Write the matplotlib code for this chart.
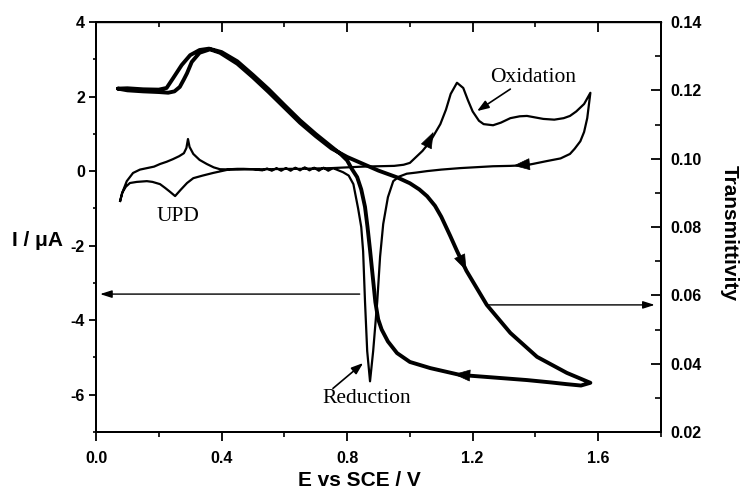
import matplotlib
matplotlib.use("Agg")
import matplotlib.pyplot as plt
from matplotlib.ticker import MultipleLocator, FixedLocator

plt.rcParams['axes.unicode_minus'] = False
plt.rcParams['font.family'] = ['Liberation Sans', 'DejaVu Sans']

# ---------------- data ----------------
# Cyclic voltammogram, current I / uA vs E / V
cv_fwd_E = [0.077, 0.085, 0.098, 0.118, 0.14, 0.162, 0.185, 0.204, 0.225, 0.245, 0.265, 0.280,
            0.288, 0.293, 0.298, 0.31, 0.33, 0.353, 0.375, 0.395, 0.45, 0.5, 0.55, 0.6, 0.65,
            0.7, 0.75, 0.8, 0.85, 0.9, 0.95, 0.98, 1.0, 1.02, 1.04, 1.065, 1.097, 1.115, 1.13,
            1.15, 1.17, 1.185, 1.20, 1.22, 1.235, 1.265, 1.29, 1.32, 1.35, 1.373, 1.40, 1.425,
            1.46, 1.49, 1.51, 1.53, 1.555, 1.575]
cv_fwd_I = [-0.80, -0.55, -0.27, -0.05, 0.04, 0.08, 0.12, 0.19, 0.25, 0.32, 0.40, 0.48,
            0.62, 0.86, 0.65, 0.46, 0.30, 0.19, 0.10, 0.05, 0.04, 0.05, 0.05, 0.06, 0.06,
            0.07, 0.08, 0.10, 0.12, 0.13, 0.14, 0.17, 0.22, 0.38, 0.54, 0.80, 1.26, 1.65, 2.07,
            2.37, 2.23, 1.90, 1.60, 1.35, 1.26, 1.23, 1.30, 1.42, 1.47, 1.48, 1.44, 1.40,
            1.38, 1.42, 1.48, 1.60, 1.80, 2.10]
cv_rev_E = [1.575, 1.565, 1.555, 1.543, 1.525, 1.51, 1.48, 1.437, 1.373, 1.32, 1.265, 1.2,
            1.16, 1.1, 1.055, 1.02, 0.99, 0.965, 0.947, 0.93, 0.915, 0.905, 0.896, 0.883,
            0.873, 0.864, 0.857, 0.851, 0.845, 0.835, 0.82, 0.805, 0.787, 0.77,
            0.755, 0.74, 0.725, 0.71, 0.695, 0.68, 0.665, 0.65, 0.635, 0.62, 0.605, 0.59,
            0.575, 0.56, 0.545, 0.53, 0.5, 0.47, 0.45, 0.427, 0.40, 0.373, 0.34, 0.31, 0.29,
            0.27, 0.252, 0.235, 0.22, 0.204, 0.18, 0.162, 0.13, 0.108, 0.095, 0.083, 0.077]
cv_rev_I = [2.10, 1.42, 1.05, 0.80, 0.60, 0.46, 0.34, 0.27, 0.16, 0.14, 0.13, 0.10,
            0.08, 0.04, 0.00, -0.04, -0.07, -0.15, -0.27, -0.70, -1.42, -2.30, -3.50, -4.83,
            -5.64, -4.83, -3.50, -2.15, -1.50, -1.00, -0.35, -0.12, -0.03, 0.03,
            0.08, 0.01, 0.09, 0.01, 0.09, 0.02, 0.10, 0.02, 0.09, 0.01, 0.08, 0.01,
            0.08, 0.01, 0.07, 0.02, 0.05, 0.06, 0.06, 0.05, 0.00, -0.05, -0.12, -0.19, -0.32,
            -0.50, -0.67, -0.55, -0.45, -0.35, -0.29, -0.27, -0.29, -0.32, -0.42, -0.59, -0.80]

# Transmittivity vs E / V
t_fwd_E = [0.07, 0.10, 0.15, 0.20, 0.23, 0.25, 0.267, 0.28, 0.29, 0.305, 0.33, 0.363, 0.395,
           0.45, 0.5, 0.55, 0.6, 0.65, 0.70, 0.75, 0.80, 0.85, 0.90, 0.96, 1.0, 1.03, 1.055,
           1.08, 1.10, 1.128, 1.15, 1.18, 1.245, 1.32, 1.405, 1.50, 1.575]
t_fwd_T = [0.1205, 0.1200, 0.1197, 0.1195, 0.1193, 0.1197, 0.1210, 0.1232, 0.1250, 0.1283,
           0.1310, 0.1320, 0.1310, 0.1278, 0.1238, 0.1195, 0.1150, 0.1105, 0.1066, 0.1030,
           0.1005, 0.0985, 0.0965, 0.0945, 0.0928, 0.0910, 0.0890, 0.0862, 0.0830, 0.0775,
           0.0730, 0.0672, 0.0572, 0.0490, 0.0420, 0.0373, 0.0344]
t_rev_E = [1.575, 1.545, 1.50, 1.45, 1.373, 1.26, 1.16, 1.065, 1.0, 0.959, 0.93, 0.91, 0.899,
           0.89, 0.88, 0.873, 0.865, 0.857, 0.845, 0.832, 0.815, 0.80, 0.78, 0.75, 0.70, 0.65,
           0.60, 0.55, 0.50, 0.45, 0.40, 0.36, 0.33, 0.30, 0.273, 0.246, 0.225, 0.20, 0.15,
           0.10, 0.07]
t_rev_T = [0.0344, 0.0336, 0.0340, 0.0345, 0.0352, 0.0360, 0.0367, 0.0387, 0.0405, 0.0431,
           0.0465, 0.0500, 0.0530, 0.0580, 0.0670, 0.0733, 0.0800, 0.0859, 0.0910, 0.0946,
           0.0970, 0.0995, 0.1013, 0.1035, 0.1072, 0.1112, 0.1157, 0.1203, 0.1245, 0.1285,
           0.1312, 0.1322, 0.1318, 0.1303, 0.1274, 0.1236, 0.1207, 0.1202, 0.1203, 0.1206,
           0.1205]

x_ticks = [0.0, 0.4, 0.8, 1.2, 1.6]
x_tick_labels = ['0.0', '0.4', '0.8', '1.2', '1.6']
i_ticks = [-6, -4, -2, 0, 2, 4]
i_tick_labels = ['-6', '-4', '-2', '0', '2', '4']
t_ticks = [0.02, 0.04, 0.06, 0.08, 0.10, 0.12, 0.14]
t_tick_labels = ['0.02', '0.04', '0.06', '0.08', '0.10', '0.12', '0.14']

# ---------------- figure ----------------
W, H = 741, 495
fig = plt.figure(figsize=(W / 100, H / 100), dpi=100)
L, R, T, B = 96, 661, 22, 432
ax = fig.add_axes([L / W, 1 - B / H, (R - L) / W, (B - T) / H])
ax2 = ax.twinx()

ax.set_xlim(0, 1.8)
ax.set_ylim(-7, 4)
ax2.set_ylim(0.02, 0.14)

ax.plot(cv_fwd_E + cv_rev_E, cv_fwd_I + cv_rev_I, color='black', lw=1.6, solid_joinstyle='round')
ax2.plot(t_fwd_E + t_rev_E, t_fwd_T + t_rev_T, color='black', lw=2.8, solid_joinstyle='round',
         solid_capstyle='round')

tick_font = dict(fontsize=11.5, fontweight='bold')
ax.set_xticks(x_ticks)
ax.set_xticklabels(x_tick_labels, **tick_font)
ax.xaxis.set_minor_locator(MultipleLocator(0.2))
ax.set_yticks(i_ticks)
ax.set_yticklabels(i_tick_labels, **tick_font)
ax.yaxis.set_minor_locator(FixedLocator([-7, -5, -3, -1, 1, 3]))
ax2.set_yticks(t_ticks)
ax2.set_yticklabels(t_tick_labels, **tick_font)
ax2.yaxis.set_minor_locator(FixedLocator([0.03, 0.05, 0.07, 0.09, 0.11, 0.13]))

ax.tick_params(axis='x', which='major', direction='out', length=6.5, width=1.3, pad=7)
ax.tick_params(axis='x', which='minor', direction='out', length=3.5, width=1.2)
ax.tick_params(axis='y', which='major', direction='out', length=5, width=1.3, pad=3)
ax.tick_params(axis='y', which='minor', direction='out', length=2.5, width=1.2)
ax2.tick_params(axis='y', which='major', direction='in', length=7, width=1.3, pad=7)
ax2.tick_params(axis='y', which='minor', direction='in', length=4, width=1.2)

sec = ax.secondary_xaxis('top')
sec.set_xticks(x_ticks)
sec.set_xticklabels([])
sec.xaxis.set_minor_locator(MultipleLocator(0.2))
sec.tick_params(axis='x', which='major', direction='in', length=7, width=1.3)
sec.tick_params(axis='x', which='minor', direction='in', length=3.5, width=1.2)

for a in (ax, ax2):
    for s in a.spines.values():
        s.set_linewidth(1.4)
sec.spines['top'].set_linewidth(1.0)

label_font = dict(fontsize=15, fontweight='bold')
ax.set_xlabel('E vs SCE / V', **label_font)
ax.xaxis.set_label_coords(0.467, -0.118)
ax.xaxis.label.set_va('center')
ax.set_ylabel('I / μA', rotation=0, **label_font)
ax.yaxis.set_label_coords(-0.104, 0.468)
ax.yaxis.label.set_va('center')
ax.yaxis.label.set_ha('center')
ax2.set_ylabel('Transmittivity', rotation=270, **label_font)
ax2.yaxis.set_label_coords(1.12, 0.485)
ax2.yaxis.label.set_va('center')

# ---------------- annotations ----------------
serif = dict(family=['Liberation Serif', 'DejaVu Serif'], fontsize=15.5)
ax.text(1.256, 2.52, 'Oxidation', ha='left', va='center', **serif)
ax.text(0.26, -1.21, 'UPD', ha='center', va='center', **serif)
ax.text(0.864, -6.09, 'Reduction', ha='center', va='center', **serif)

thin = dict(arrowstyle='-|>,head_length=0.5,head_width=0.18', mutation_scale=14,
            color='black', lw=1.2, shrinkA=0, shrinkB=0)
ax.annotate('', xy=(1.214, 1.61), xytext=(1.32, 2.2), arrowprops=thin)
ax.annotate('', xy=(0.851, -5.15), xytext=(0.755, -5.83), arrowprops=thin)

horiz = dict(arrowstyle='-|>,head_length=0.5,head_width=0.16', mutation_scale=14,
             color='black', lw=1.0, shrinkA=0, shrinkB=0)
ax.annotate('', xy=(0.013, -3.3), xytext=(0.84, -3.3), arrowprops=horiz)
ax2.annotate('', xy=(1.78, 0.0572), xytext=(1.246, 0.0572), arrowprops=horiz)

head = dict(arrowstyle='-|>,head_length=0.6,head_width=0.22', mutation_scale=18,
            color='black', lw=0.5, shrinkA=0, shrinkB=0)
ax.annotate('', xy=(1.075, 1.05), xytext=(1.05, 0.62), arrowprops=head)
ax.annotate('', xy=(1.33, 0.145), xytext=(1.40, 0.20), arrowprops=head)
ax2.annotate('', xy=(1.18, 0.0672), xytext=(1.128, 0.0775), arrowprops=head)
ax2.annotate('', xy=(1.14, 0.0369), xytext=(1.21, 0.0364), arrowprops=head)

fig.savefig('out.png', dpi=100)
